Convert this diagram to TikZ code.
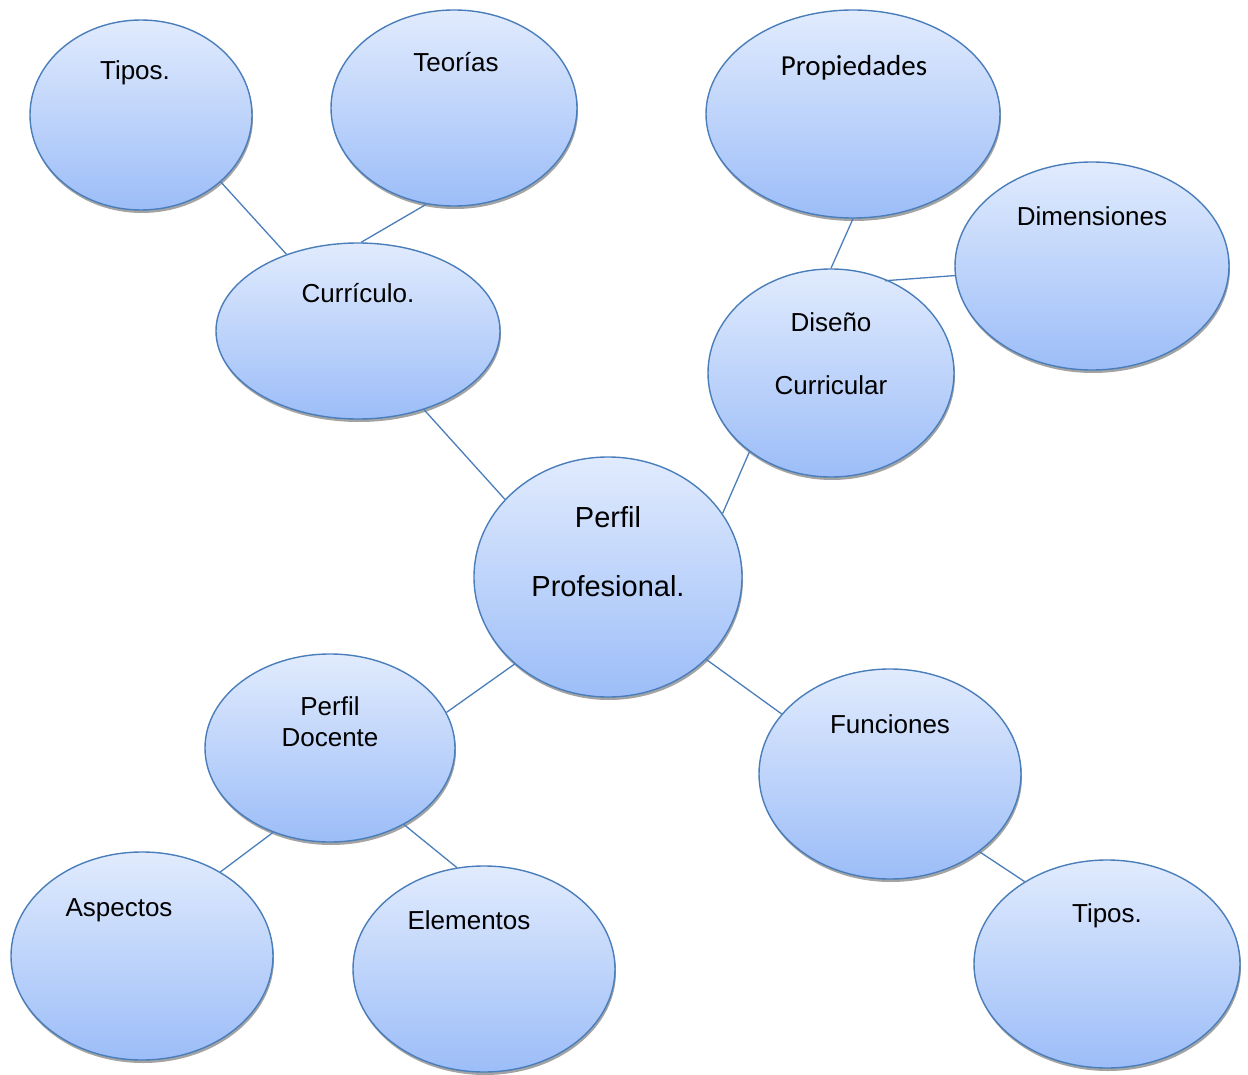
\documentclass[tikz,border=0pt]{standalone}
\usepackage{fontspec}
\setmainfont{Liberation Sans}
\newfontfamily\calib{Carlito}
\usetikzlibrary{shapes.geometric,shadows}
\definecolor{edgec}{HTML}{4A7EBB}
\definecolor{topc}{HTML}{E1EBFD}
\definecolor{botc}{HTML}{9CBDF8}
\tikzset{
 bubble/.style={ellipse, draw=edgec, line width=1.4pt, top color=topc, bottom color=botc, inner sep=0pt,
   drop shadow={shadow xshift=1pt, shadow yshift=-3pt, fill=black!45, opacity=0.8}},
 txt/.style={anchor=base, inner sep=0pt, font=\fontsize{26}{31}\selectfont},
 bigtxt/.style={anchor=base, inner sep=0pt, font=\fontsize{29}{34}\selectfont},
 caltxt/.style={anchor=base, inner sep=0pt, font=\calib\fontsize{29}{34}\selectfont},
 link/.style={draw=edgec, line width=1.3pt},
}
\begin{document}
\begin{tikzpicture}[x=1pt,y=-1pt]
\useasboundingbox (0,0) rectangle (1248,1075);
% ellipses
\node[bubble, minimum width=222pt, minimum height=190pt] (tip1) at (141,115) {};
\node[bubble, minimum width=246pt, minimum height=196pt] (teo) at (454,108) {};
\node[bubble, minimum width=284pt, minimum height=176pt] (cur) at (358,331) {};
\node[bubble, minimum width=294pt, minimum height=208pt] (pro) at (853,114) {};
\node[bubble, minimum width=274pt, minimum height=208pt] (dim) at (1092,266) {};
\node[bubble, minimum width=246pt, minimum height=208pt] (dis) at (831,373) {};
\node[bubble, minimum width=268pt, minimum height=240pt] (per) at (608,577) {};
\node[bubble, minimum width=250pt, minimum height=188pt] (doc) at (330,748) {};
\node[bubble, minimum width=262pt, minimum height=210pt] (fun) at (890,774) {};
\node[bubble, minimum width=262pt, minimum height=208pt] (asp) at (142,956) {};
\node[bubble, minimum width=262pt, minimum height=206pt] (ele) at (484,969) {};
\node[bubble, minimum width=266pt, minimum height=208pt] (tip2) at (1107,964) {};
% connectors
\draw[link] (tip1.-40) -- (cur.133.5);
\draw[link] (teo.-106.3) -- (cur.88.7);
\draw[link] (cur.-50.1) -- (per.143.5);
\draw[link] (pro.-90) -- (dis.90);
\draw[link, shorten >=-4pt] (dim.184.6) -- (dis.58.3);
\draw[link] (dis.-136) -- (per.29.3);
\draw[link] (per.-137.8) -- (doc.17.8);
\draw[link] (per.-40.9) -- (fun.151.2);
\draw[link] (doc.-124.6) -- (asp.47.8);
\draw[link] (doc.-46.1) -- (ele.105.6);
\draw[link] (fun.-41) -- (tip2.135.3);
% texts
\node[txt] (l-tip1) at (135,80) {Tipos.};
\node[txt] (l-teo) at (456,72) {Teorías};
\node[txt] (l-cur) at (358,303) {Currículo.};
\node[caltxt] (l-pro) at (854,76) {Propiedades};
\node[txt] (l-dim) at (1092,226) {Dimensiones};
\node[txt] (l-dis1) at (831,332) {Diseño};
\node[txt] (l-dis2) at (831,394) {Curricular};
\node[bigtxt] (l-per1) at (608,527) {Perfil};
\node[bigtxt] (l-per2) at (608,596) {Profesional.};
\node[txt] (l-doc1) at (330,715) {Perfil};
\node[txt] (l-doc2) at (330,746) {Docente};
\node[txt] (l-fun) at (890,733) {Funciones};
\node[txt] (l-asp) at (119,916) {Aspectos};
\node[txt] (l-ele) at (469,929) {Elementos};
\node[txt] (l-tip2) at (1107,922) {Tipos.};
\end{tikzpicture}
\end{document}
